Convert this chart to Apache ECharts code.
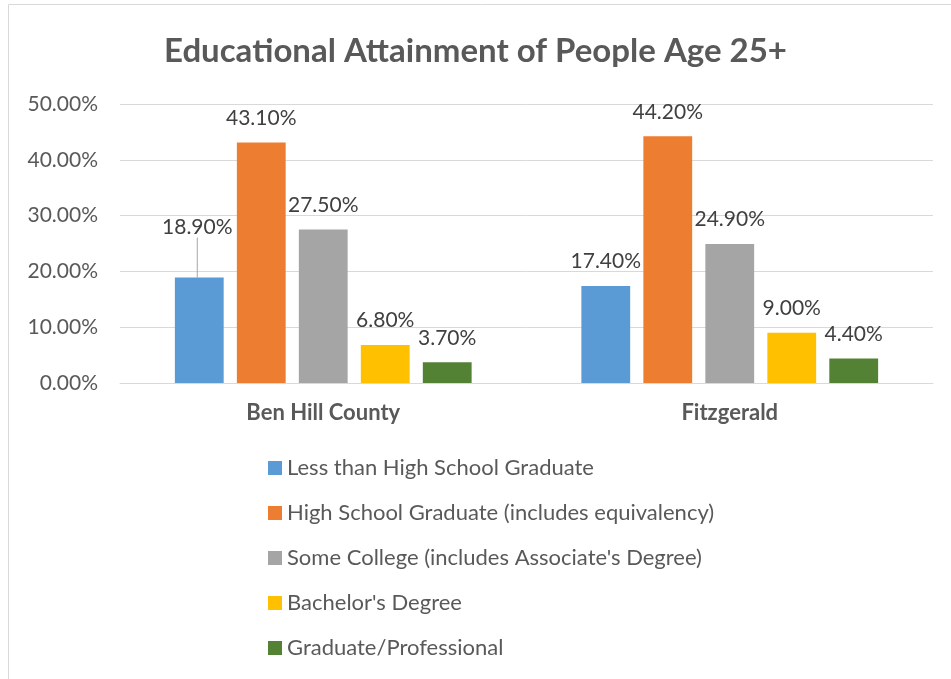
<!DOCTYPE html>
<html>
<head>
<meta charset="utf-8">
<script src="https://cdn.jsdelivr.net/npm/echarts@6/dist/echarts.min.js"></script>
<style>
html,body{margin:0;padding:0;background:#fff;}
#c{width:951px;height:679px;}
</style>
</head>
<body>
<div id="c"></div>
<script>
const titleText = "Educational Attainment of People Age 25+";
const categories = ["Ben Hill County", "Fitzgerald"];
const seriesNames = [
  "Less than High School Graduate",
  "High School Graduate (includes equivalency)",
  "Some College (includes Associate's Degree)",
  "Bachelor's Degree",
  "Graduate/Professional"
];
const lessThanHS = [18.9, 17.4];
const hsGraduate = [43.1, 44.2];
const someCollege = [27.5, 24.9];
const bachelors = [6.8, 9.0];
const graduate = [3.7, 4.4];
const yTicks = [0, 10, 20, 30, 40, 50];

const colors = ["#5b9bd5", "#ed7d31", "#a5a5a5", "#ffc000", "#548235"];
const seriesData = [lessThanHS, hsGraduate, someCollege, bachelors, graduate];
const FONT = "Lato";

const chart = echarts.init(document.getElementById('c'), null, {renderer: 'canvas'});

const series = seriesNames.map((name, i) => ({
  name: name,
  type: 'bar',
  data: seriesData[i].map((v, j) => (i === 0 && j === 0)
    ? {value: v, labelLine: {show: true, lineStyle: {color: '#a6a6a6', width: 1}}}
    : {value: v}),
  itemStyle: {color: colors[i]},
  barGap: '27%',
  barCategoryGap: '27%',
  label: {
    show: true,
    position: 'top',
    distance: 14,
    fontFamily: FONT,
    fontSize: 21,
    color: '#404040',
    formatter: p => p.value.toFixed(2) + '%'
  },
  labelLine: {show: false},
  labelLayout: i === 0 ? function (params) {
    if (params.dataIndex === 0) return {dx: -2, dy: -26};
    return {};
  } : undefined
}));

chart.setOption({
  animation: false,
  backgroundColor: '#ffffff',
  title: {
    text: titleText,
    left: 'center',
    top: 30,
    textStyle: {fontFamily: FONT, fontSize: 33, fontWeight: 'bold', color: '#595959'}
  },
  graphic: [{
    type: 'rect',
    shape: {x: 8.5, y: 4.5, width: 960, height: 700},
    style: {fill: 'none', stroke: '#d9d9d9', lineWidth: 1},
    silent: true,
    z: -1
  }],
  grid: {left: 120, right: 18, top: 104, bottom: 296},
  xAxis: {
    type: 'category',
    data: categories,
    axisLine: {show: true, lineStyle: {color: '#d9d9d9', width: 1}},
    axisTick: {show: false},
    axisLabel: {fontFamily: FONT, fontSize: 22, fontWeight: 'bold', color: '#595959', margin: 19}
  },
  yAxis: {
    type: 'value',
    min: yTicks[0],
    max: yTicks[yTicks.length - 1],
    interval: 10,
    axisLine: {show: false},
    axisTick: {show: false},
    splitLine: {lineStyle: {color: '#d9d9d9', width: 1}},
    axisLabel: {fontFamily: FONT, fontSize: 21, color: '#595959', margin: 22,
      formatter: v => v.toFixed(2) + '%'}
  },
  legend: {
    orient: 'vertical',
    left: 263,
    top: 452,
    icon: 'rect',
    itemWidth: 14,
    itemHeight: 14,
    itemGap: 23,
    textStyle: {fontFamily: FONT, fontSize: 22, color: '#595959', lineHeight: 20},
    data: seriesNames
  },
  series: series
});
</script>
</body>
</html>
